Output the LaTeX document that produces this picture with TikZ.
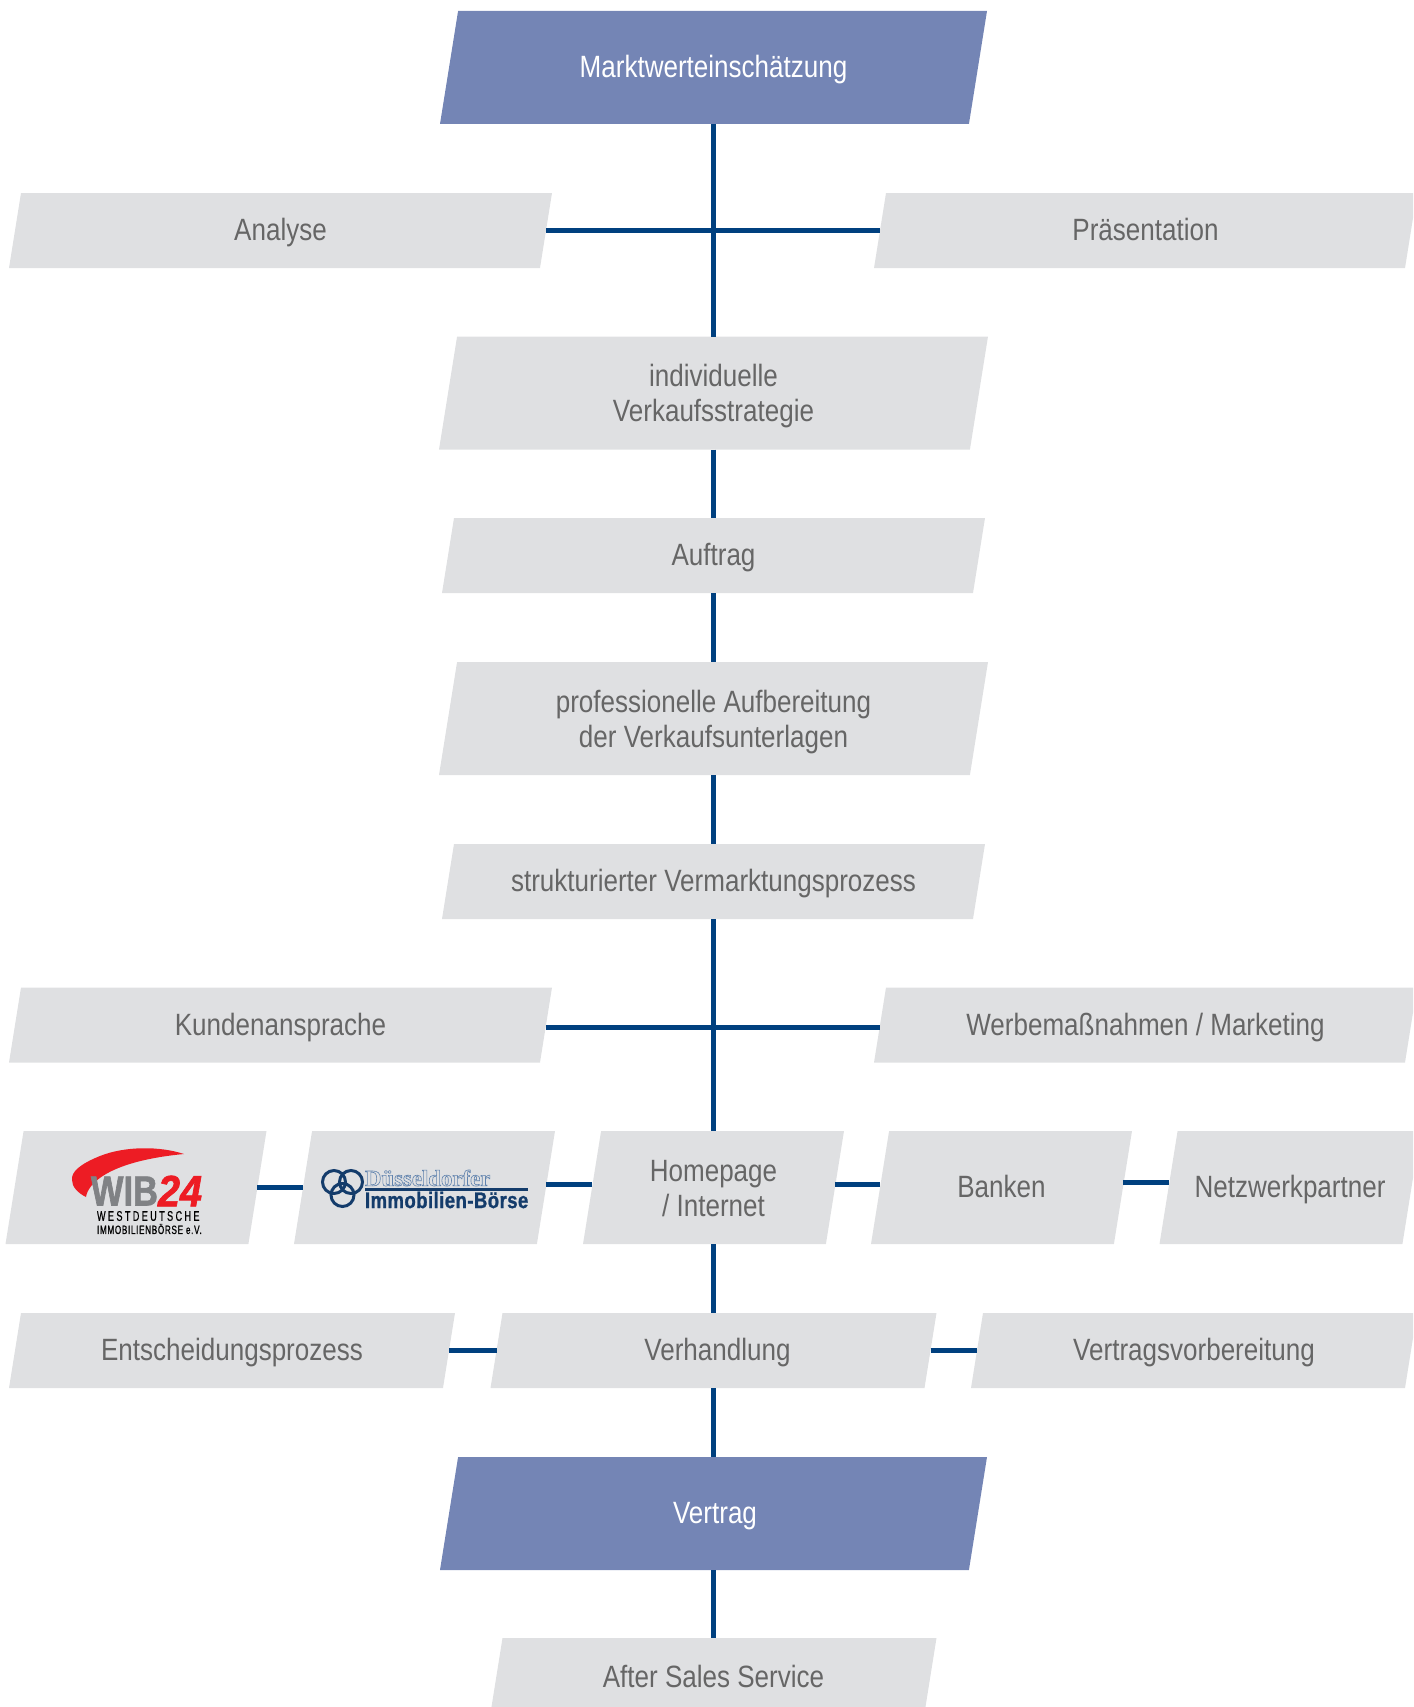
\documentclass[tikz,border=0pt]{standalone}
\usepackage{fontspec}
\usepackage{xcolor}
\setmainfont[FakeStretch=0.845]{Liberation Sans}
\newfontfamily\logosans[FakeStretch=0.82]{Liberation Sans}
\newfontfamily\logoserif{Liberation Serif}
\definecolor{boxgrey}{HTML}{DFE0E2}
\definecolor{boxblue}{HTML}{7485B5}
\definecolor{linkblue}{HTML}{00407F}
\definecolor{textgrey}{HTML}{666666}
\definecolor{wibred}{HTML}{ED1C24}
\definecolor{wibgrey}{HTML}{808285}
\definecolor{ddblue}{HTML}{143C6B}
\definecolor{ddlight}{HTML}{5F82AD}
\newcommand{\firstrow}{\rule{0pt}{14.7pt}}
\newcommand{\lastrow}{\rule[-3.3pt]{0pt}{3.3pt}}
\makeatletter
\pgfdeclareshape{slantbox}{
  \inheritsavedanchors[from=rectangle]
  \inheritanchorborder[from=rectangle]
  \inheritanchor[from=rectangle]{center}
  \inheritanchor[from=rectangle]{north}
  \inheritanchor[from=rectangle]{south}
  \anchor{east}{\pgf@process{\southwest}\pgf@ya=\pgf@y
    \pgf@process{\northeast}\pgf@yb=\pgf@y
    \advance\pgf@x by -0.08\pgf@yb \advance\pgf@x by 0.08\pgf@ya
    \pgf@y=0.5\pgf@yb \advance\pgf@y by 0.5\pgf@ya}
  \anchor{west}{\pgf@process{\northeast}\pgf@yb=\pgf@y
    \pgf@process{\southwest}\pgf@ya=\pgf@y
    \advance\pgf@x by 0.08\pgf@yb \advance\pgf@x by -0.08\pgf@ya
    \pgf@y=0.5\pgf@yb \advance\pgf@y by 0.5\pgf@ya}
  \backgroundpath{
    \pgf@process{\southwest}\pgf@xa=\pgf@x \pgf@ya=\pgf@y
    \pgf@process{\northeast}\pgf@xb=\pgf@x \pgf@yb=\pgf@y
    \pgf@xc=\pgf@yb \advance\pgf@xc by -\pgf@ya \pgf@xc=0.16\pgf@xc
    \pgfpathmoveto{\pgfqpoint{\pgf@xa}{\pgf@ya}}
    \pgfpathlineto{\pgfqpoint{\dimexpr\pgf@xb-\pgf@xc\relax}{\pgf@ya}}
    \pgfpathlineto{\pgfqpoint{\pgf@xb}{\pgf@yb}}
    \pgfpathlineto{\pgfqpoint{\dimexpr\pgf@xa+\pgf@xc\relax}{\pgf@yb}}
    \pgfpathclose}
}
\makeatother
\tikzset{
  pgram/.style={slantbox, inner sep=0pt, outer sep=0pt, fill=boxgrey, text=textgrey, align=center,
    font=\fontsize{15.4}{17.5}\selectfont},
  primary/.style={pgram, fill=boxblue, text=white},
  oneline/.style={text height=12pt, text depth=1.6pt},
  tall/.style={minimum height=56.5pt},
  flat/.style={minimum height=37.5pt, oneline},
  broad/.style={minimum width=271.5pt},
  middle/.style={minimum width=223pt},
  narrow/.style={minimum width=130.5pt},
  link/.style={draw=linkblue, line width=2.6pt},
  logotext/.style={inner sep=0pt, outer sep=0pt}
}
\begin{document}
\begin{tikzpicture}[x=0.5pt,y=-0.5pt]
  \clip (0,0) rectangle (1413,1707);
  % centre column
  \node[primary,tall,oneline,minimum width=273.5pt] (markt) at (713.5,67.5) {Marktwerteinschätzung};
  \node[pgram,flat,broad] (analyse) at (280.5,230.5) {Analyse};
  \node[pgram,flat,broad] (praes) at (1145.5,230.5) {Präsentation};
  \node[pgram,tall,minimum width=274.5pt] (strategie) at (713.5,393) {\firstrow individuelle\\Verkaufsstrategie\lastrow};
  \node[pgram,flat,broad] (auftrag) at (713.5,555.5) {Auftrag};
  \node[pgram,tall,minimum width=274.5pt] (unterlagen) at (713.5,718.5) {\firstrow professionelle Aufbereitung\\der Verkaufsunterlagen\lastrow};
  \node[pgram,flat,broad] (prozess) at (713.5,881.5) {strukturierter Vermarktungsprozess};
  \node[pgram,flat,broad] (kunden) at (280.5,1025) {Kundenansprache};
  \node[pgram,flat,broad] (werbung) at (1145.5,1025) {Werbemaßnahmen / Marketing};
  % row with the logos
  \node[pgram,tall,narrow] (wib) at (136,1187.5) {};
  \node[pgram,tall,narrow] (dd) at (424.5,1187.5) {};
  \node[pgram,tall,narrow] (home) at (713.5,1187.5) {\firstrow Homepage\\/ Internet\lastrow};
  \node[pgram,tall,oneline,narrow] (banken) at (1001.5,1187.5) {Banken};
  \node[pgram,tall,oneline,narrow] (netz) at (1290,1187.5) {Netzwerkpartner};
  \node[pgram,flat,middle] (entscheid) at (232,1350.5) {Entscheidungsprozess};
  \node[pgram,flat,middle] (verhandlung) at (713.5,1350.5) {\hspace*{4pt}Verhandlung};
  \node[pgram,flat,middle] (vorbereitung) at (1194,1350.5) {Vertragsvorbereitung};
  \node[primary,tall,oneline,minimum width=273.5pt] (vertrag) at (713.5,1513.5) {\hspace*{1.5pt}Vertrag};
  \node[pgram,flat,middle] (after) at (713.5,1675.5) {\raisebox{-0.7pt}{After Sales Service}};
  % WIB logo
  \fill[wibred] (184,1154) .. controls (160,1146) and (125,1146) .. (100,1156)
    .. controls (80,1164) and (71,1172) .. (72,1180)
    .. controls (72,1187) and (78,1193) .. (86,1197)
    .. controls (88,1183) and (110,1161) .. (184,1154) -- cycle;
  \node[logotext,anchor=west,text=wibgrey,font=\logosans\bfseries\fontsize{21}{21}\selectfont] (wibname) at (91,1191) {\addfontfeature{FakeBold=1.5}WIB};
  \node[logotext,anchor=west,text=wibred,font=\logosans\bfseries\itshape\fontsize{22}{22}\selectfont] (wibnum) at (158,1191) {\addfontfeature{FakeBold=1.5,FakeStretch=0.9}24};
  \node[logotext,anchor=west,text=black,font=\logosans\fontsize{7}{7}\selectfont] (wibline) at (97,1216) {\addfontfeature{FakeStretch=0.65,LetterSpace=17,FakeBold=0.5}WESTDEUTSCHE};
  \node[logotext,anchor=west,text=black,font=\logosans\fontsize{6}{6}\selectfont] (wibsub) at (97,1229) {\addfontfeature{FakeStretch=0.68,LetterSpace=5.6,FakeBold=0.8}IMMOBILIENBÖRSE e.V.};
  % Duesseldorf logo
  \draw[ddblue,line width=1.5pt] (334,1182) circle (11.5) (351,1182) circle (11.5) (342.5,1195) circle (11.5);
  \node[logotext,anchor=west,text=ddlight,font=\logoserif\bfseries\fontsize{11.4}{11.4}\selectfont] (ddname) at (365,1178) {\special{pdf:code 1 Tr 0.3 w}Düsseldorfer\special{pdf:code 0 Tr}};
  \fill[ddblue] (365,1187.5) rectangle (528,1190.5);
  \node[logotext,anchor=west,text=ddblue,font=\logosans\bfseries\fontsize{11.3}{11.3}\selectfont] (ddsub) at (365,1200) {\addfontfeature{LetterSpace=2,FakeBold=1}Immobilien-Börse};
  % connectors
  \path[link]
    (markt.south) edge (strategie.north)
    (analyse.east) edge (praes.west)
    (strategie.south) edge (auftrag.north)
    (auftrag.south) edge (unterlagen.north)
    (unterlagen.south) edge (prozess.north)
    (prozess.south) edge (home.north)
    ([yshift=-1.3pt]kunden.east) edge ([yshift=-1.3pt]werbung.west)
    (wib.east) edge (dd.west)
    ([yshift=1.6pt]dd.east) edge ([yshift=1.6pt]home.west)
    ([yshift=1.6pt]home.east) edge ([yshift=1.6pt]banken.west)
    ([yshift=2.7pt]banken.east) edge ([yshift=2.7pt]netz.west)
    (home.south) edge (verhandlung.north)
    (entscheid.east) edge (verhandlung.west)
    (verhandlung.east) edge (vorbereitung.west)
    (verhandlung.south) edge (vertrag.north)
    (vertrag.south) edge (after.north);
\end{tikzpicture}
\end{document}
